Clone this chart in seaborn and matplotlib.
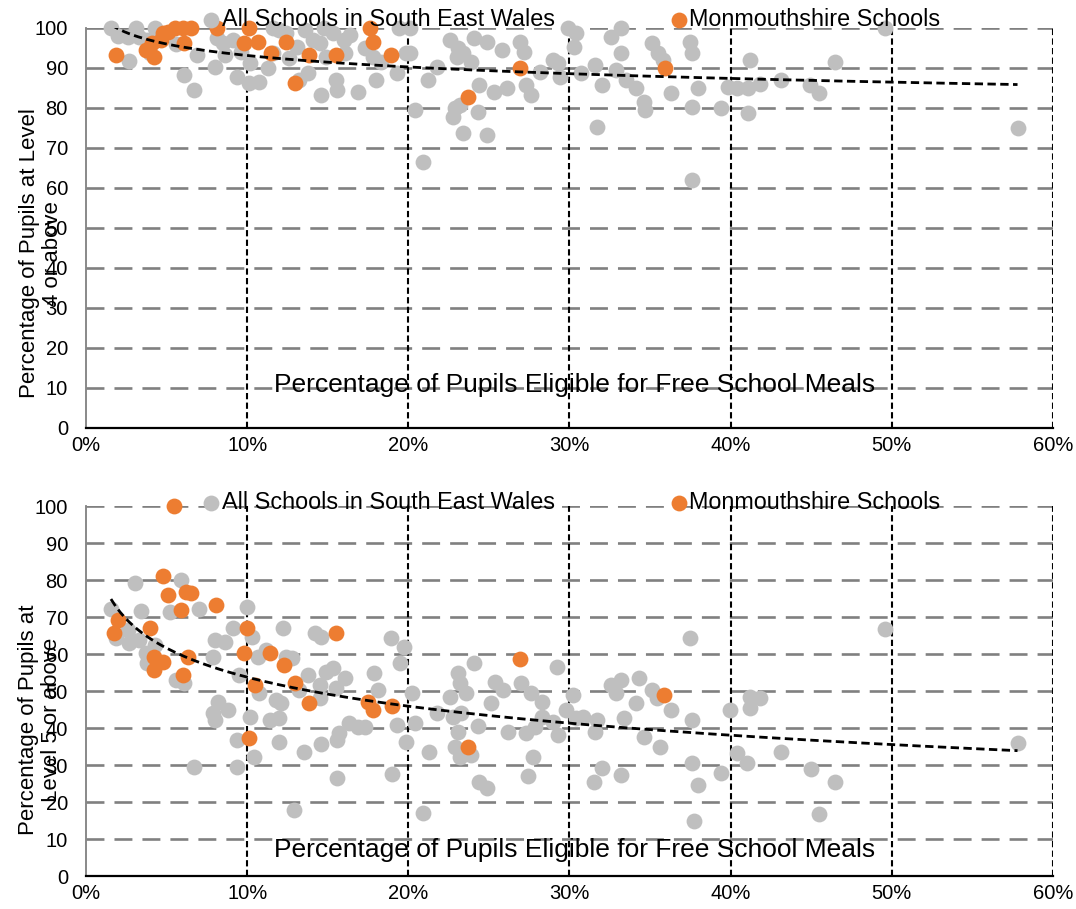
import matplotlib
matplotlib.use("Agg")
import matplotlib.pyplot as plt
import numpy as np
import pandas as pd
import seaborn as sns
from matplotlib.ticker import FuncFormatter

sns.set_style("white")
plt.rcParams['font.family'] = ['Liberation Sans', 'DejaVu Sans']
plt.rcParams['text.color'] = 'black'
plt.rcParams['xtick.labelcolor'] = 'black'
plt.rcParams['ytick.labelcolor'] = 'black'

GREY = "#BFBFBF"
ORANGE = "#ED7D31"

# --- Level 4: all schools (x = % FSM, y = % at level 4+) ---
l4_all_x = [1.55, 1.96, 2.6, 2.7, 3.1, 3.3, 3.8, 4.3, 4.0, 5.6, 6.1, 6.7, 6.9, 8.0, 8.1, 8.5,
            8.6, 9.1, 9.4, 9.6, 10.1, 10.2, 10.75, 11.3, 11.6, 11.6, 12.0, 12.4, 12.6, 13.1,
            13.2, 13.6, 13.75, 14.1, 14.5, 14.6, 14.8, 14.9, 15.3, 15.5, 15.6, 16.0, 16.1,
            16.4, 16.85, 17.3, 17.8, 18.0, 18.3, 19.3, 19.4, 19.85, 20.4, 20.1, 20.1, 21.75,
            21.2, 22.6, 23.1, 23.0, 23.4, 23.9, 24.1, 24.4, 24.9, 25.3, 25.8, 26.1, 26.9,
            27.2, 27.3, 27.6, 28.2, 29.0, 29.3, 29.4, 22.9, 22.8, 23.2, 24.3, 23.4, 24.9,
            29.9, 30.4, 30.3, 30.7, 31.6, 32.0, 31.7, 32.6, 33.2, 33.2, 32.9, 33.5, 34.1,
            34.6, 34.7, 35.1, 35.5, 35.8, 36.3, 37.5, 37.6, 37.6, 38.0, 39.4, 39.85, 40.4,
            41.2, 41.1, 41.8, 41.1, 43.1, 44.9, 45.5, 46.5, 49.6, 57.8, 20.9, 37.6]
l4_all_y = [100, 98, 97.7, 91.8, 100, 97.8, 97, 100, 93.7, 96, 88.3, 84.5, 93.3, 90.3, 97.4, 96.2,
            93.3, 97, 87.8, 94.1, 86.2, 91.2, 86.6, 89.9, 93.7, 100, 99.5, 98.7, 92.4, 95.3,
            87, 99.5, 88.7, 97, 96.2, 83.25, 100, 92.8, 98.7, 87, 84.5, 97, 93.7,
            98.25, 84.1, 94.9, 92.8, 87, 91.6, 88.7, 100, 93.7, 79.5, 100, 93.7, 90.3,
            87, 97, 94.9, 92.8, 93.7, 91.6, 97.4, 85.75, 96.6, 84.1, 94.5, 84.9, 96.6,
            94, 85.75, 83.25, 89.1, 92, 91.2, 87.8, 79.9, 77.8, 80.75, 79.1, 73.7, 73.25,
            99.9, 98.7, 95.3, 88.7, 90.75, 85.75, 75.3, 97.8, 100, 93.7, 89.5, 87, 84.9,
            81.6, 79.5, 96.2, 93.7, 92, 83.7, 96.6, 93.7, 80.3, 84.9, 79.9, 85.3, 84.9,
            92, 84.9, 86, 78.8, 87, 85.75, 83.7, 91.6, 99.9, 75.1, 66.5, 62]

# --- Level 4: Monmouthshire schools ---
l4_mon_x = [1.86, 3.7, 4.24, 4.1, 4.65, 4.75, 5.1, 5.5, 6.0, 6.5, 6.1, 8.1, 9.8, 10.1, 10.65,
            11.5, 12.4, 13.0, 13.85, 15.5, 17.6, 17.8, 18.9, 23.7, 26.9, 35.9]
l4_mon_y = [93.25, 94.5, 92.8, 96.2, 97, 98.7, 99, 100, 100, 100, 96.2, 100, 96.2, 100, 96.6,
            93.7, 96.6, 86.3, 93.25, 93.25, 100, 96.6, 93.25, 82.75, 90, 90]

# --- Level 5: all schools ---
l5_all_x = [1.55, 1.86, 2.6, 2.7, 3.06, 3.3, 3.4, 3.7, 3.8, 4.3, 5.2, 5.6, 5.9, 6.1, 7.0, 6.7,
            7.9, 8.0, 8.2, 7.9, 8.0, 8.6, 8.8, 9.1, 9.4, 9.4, 9.5, 10.0, 10.3, 10.2, 10.4,
            10.65, 10.75, 11.2, 11.4, 11.8, 12.0, 12.0, 12.1, 12.2, 12.4, 12.8, 12.9, 13.2,
            13.5, 13.75, 14.2, 14.5, 14.5, 14.6, 14.6, 14.9, 15.3, 15.5, 15.6, 15.7, 15.6,
            16.1, 16.3, 16.85, 17.3, 17.9, 18.1, 18.9, 19.0, 19.3, 19.5, 19.75, 19.85, 20.2,
            20.4, 20.9, 21.3, 21.75, 22.6, 22.8, 23.1, 23.2, 23.3, 23.1, 22.9, 23.2, 23.9,
            23.6, 24.1, 24.3, 24.4, 24.9, 25.1, 25.4, 25.9, 26.2, 27.0, 27.3, 27.6, 27.75,
            27.4, 27.85, 28.3, 28.3, 29.0, 29.2, 29.3, 29.8, 30.2, 30.4, 30.85, 31.5, 31.7,
            31.6, 32.0, 32.6, 32.9, 33.2, 33.2, 33.4, 34.1, 34.3, 34.6, 35.1, 35.4, 35.6,
            36.3, 37.5, 37.6, 37.6, 38.0, 37.7, 39.4, 39.95, 40.4, 41.2, 41.8, 41.2, 41.0,
            43.1, 45.0, 46.5, 45.5, 49.6, 57.8]
l5_all_y = [72.3, 64.2, 66.5, 62.9, 79.3, 63.8, 71.7, 60.2, 57.5, 62.4, 71.4, 53, 80, 52.1, 72.3, 29.4,
            59.3, 63.8, 47.1, 43.95, 42.1, 63.3, 44.9, 66.9, 36.75, 29.5, 54.3, 72.8, 64.7, 43.1, 32.2,
            59.3, 49.4, 61.1, 42.1, 47.6, 42.6, 36.3, 46.7, 66.9, 59.3, 58.8, 17.8, 50.3,
            33.6, 54.3, 65.6, 51.6, 48, 35.8, 64.7, 55.2, 56.1, 50.7, 36.75, 38.6, 26.4,
            53.4, 41.3, 40.4, 40.4, 54.8, 50.3, 64.2, 27.7, 40.8, 57.5, 62, 36.3, 49.4,
            41.3, 17.1, 33.6, 44, 48.5, 43, 54.8, 52.1, 44, 39, 35, 32.3, 32.7,
            49.4, 57.5, 40.5, 25.5, 23.7, 46.7, 52.5, 50.3, 39, 52.1, 38.6, 49.4, 32.3,
            26.9, 40.4, 47.1, 43, 41.7, 56.6, 38.1, 44.9, 48.9, 42.6, 43, 25.5, 42.2,
            39, 29.1, 51.6, 49.4, 53, 27.3, 42.6, 46.7, 53.4, 37.7, 50.3, 48, 35,
            44.9, 64.2, 42.2, 30.5, 24.6, 15, 27.8, 44.9, 33.2, 48.3, 48.2, 45.3, 30.6,
            33.6, 28.8, 25.5, 16.8, 66.8, 36]

# --- Level 5: Monmouthshire schools ---
l5_mon_x = [1.96, 1.76, 4.0, 4.24, 4.75, 4.24, 4.75, 5.07, 5.46, 5.9, 6.2, 6.5, 6.3, 6.0, 8.06,
            10.0, 9.8, 10.1, 10.5, 11.4, 12.3, 13.0, 13.85, 15.5, 17.5, 17.8, 19.0, 23.7,
            26.9, 35.85]
l5_mon_y = [69.2, 65.6, 66.9, 59.3, 57.9, 55.7, 81.1, 75.9, 100, 71.9, 76.8, 76.4, 59.3, 54.3, 73.2,
            66.9, 60.2, 37.2, 51.6, 60.2, 57, 52.1, 46.7, 65.6, 47.1, 44.9, 46, 35,
            58.6, 48.9]

x_ticks = [0, 10, 20, 30, 40, 50, 60]
y_ticks = [0, 10, 20, 30, 40, 50, 60, 70, 80, 90, 100]
xlabel = "Percentage of Pupils Eligible for Free School Meals"


def draw_panel(ax, all_x, all_y, mon_x, mon_y, xlab_y, leg_y):
    ax.set_xlim(0, 60)
    ax.set_ylim(0, 100)
    for yv in y_ticks[1:]:
        ax.axhline(yv, color="#808080", lw=1.9, ls=(0, (6.8, 3.8)), zorder=1)
    for xv in x_ticks[1:]:
        ax.axvline(xv, color="black", lw=1.5, ls=(0, (3, 1.6)), zorder=1.5)

    df_all = pd.DataFrame({"x": all_x, "y": all_y})
    df_mon = pd.DataFrame({"x": mon_x, "y": mon_y})
    sns.scatterplot(data=df_all, x="x", y="y", color=GREY, s=130, linewidth=0,
                    ax=ax, zorder=2, clip_on=False, label="All Schools in South East Wales")
    sns.scatterplot(data=df_mon, x="x", y="y", color=ORANGE, s=130, linewidth=0,
                    ax=ax, zorder=3, clip_on=False, label="Monmouthshire Schools")

    # logarithmic trendline over all schools
    xs = np.array(all_x + mon_x)
    ys = np.array(all_y + mon_y)
    b, a = np.polyfit(np.log(xs), ys, 1)
    fx = np.linspace(xs.min(), xs.max(), 200)
    trend = pd.DataFrame({"x": fx, "y": a + b * np.log(fx)})
    sns.lineplot(data=trend, x="x", y="y", color="black", lw=2, ax=ax, zorder=4,
                 linestyle=(0, (3, 1.6)))

    ax.set_xticks(x_ticks)
    ax.set_yticks(y_ticks)
    ax.xaxis.set_major_formatter(FuncFormatter(lambda v, p: f"{int(v)}%"))
    ax.tick_params(axis="y", length=5, width=1.3, color="#808080", labelsize=14.5, pad=8)
    ax.tick_params(axis="x", length=0, labelsize=14.5, pad=6)
    ax.set_xlabel("")
    ax.set_ylabel("")
    for side in ["top", "right"]:
        ax.spines[side].set_visible(False)
    ax.spines["left"].set_color("#808080")
    ax.spines["left"].set_linewidth(1.3)
    ax.spines["bottom"].set_color("black")
    ax.spines["bottom"].set_linewidth(1.6)
    ax.spines["bottom"].set_zorder(5)

    ax.text(30.3, xlab_y, xlabel, ha="center", va="center", fontsize=19, zorder=6)
    ax.legend(loc="center", bbox_to_anchor=(0.503, leg_y),
              ncol=2, frameon=False, fontsize=16.8, handlelength=0.6, handletextpad=0.15,
              columnspacing=5.0, borderaxespad=0, markerscale=1.0)


fig = plt.figure(figsize=(10.76, 9.09), dpi=100)
ax1 = fig.add_axes([0.0799, 0.5292, 0.8987, 0.4400])
ax2 = fig.add_axes([0.0799, 0.0363, 0.8987, 0.4070])

draw_panel(ax1, l4_all_x, l4_all_y, l4_mon_x, l4_mon_y, 10.75, 1.02)
draw_panel(ax2, l5_all_x, l5_all_y, l5_mon_x, l5_mon_y, 7.0, 1.01)

fig.text(0.038, 0.7215, "Percentage of Pupils at Level\n4 or above", rotation=90,
         ha="center", va="center", fontsize=16, linespacing=1.1, multialignment="center")
fig.text(0.037, 0.2077, "Percentage of Pupils at\nLevel 5 or above", rotation=90,
         ha="center", va="center", fontsize=16, linespacing=1.1, multialignment="center")

fig.savefig("out.png", dpi=100)
